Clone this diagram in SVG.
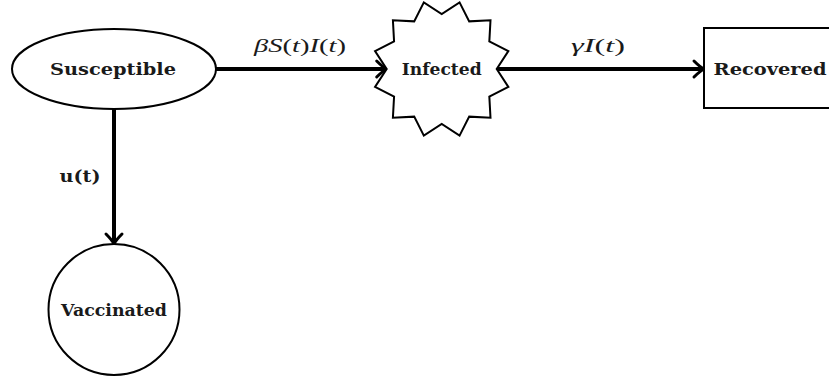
<svg xmlns="http://www.w3.org/2000/svg" width="829" height="381" viewBox="0 0 829 381">
<style>
.shape{fill:#fff;stroke:#000;stroke-width:2}
.node{font-family:"DejaVu Serif","Liberation Serif",serif;font-weight:bold;font-size:17px;fill:#1a1a1a;text-anchor:middle}
.edge{stroke:#000;stroke-width:4;fill:none}
.math{font-family:"Liberation Serif","DejaVu Serif",serif;font-size:19px;fill:#1a1a1a;text-anchor:middle}
.it{font-style:italic}
.lbl{font-family:"DejaVu Serif","Liberation Serif",serif;font-weight:bold;font-size:17px;fill:#1a1a1a;text-anchor:middle}
</style>
<defs>
<marker id="arr" markerUnits="userSpaceOnUse" viewBox="-12 -10 14 20" markerWidth="14" markerHeight="20" refX="-2" refY="0" orient="auto" overflow="visible">
<path d="M-10,-8 Q-4,-2 0,0 Q-4,2 -10,8" fill="none" stroke="#000" stroke-width="3" stroke-linecap="round" stroke-linejoin="round"/>
</marker>
</defs>
<rect width="829" height="381" fill="#fff"/>
<g id="connectors">
<line class="edge" x1="216" y1="69" x2="384.7" y2="69" marker-end="url(#arr)"/>
<line class="edge" x1="496.7" y1="69" x2="702" y2="69" marker-end="url(#arr)"/>
<line class="edge" x1="114" y1="109" x2="114" y2="242" marker-end="url(#arr)"/>
<text class="math" x="300" y="52" textLength="92" lengthAdjust="spacingAndGlyphs"><tspan class="it">βS</tspan>(<tspan class="it">t</tspan>)<tspan class="it">I</tspan>(<tspan class="it">t</tspan>)</text>
<text class="math" x="598" y="52" textLength="54" lengthAdjust="spacingAndGlyphs"><tspan class="it">γI</tspan>(<tspan class="it">t</tspan>)</text>
<text class="lbl" x="80" y="182" textLength="41" lengthAdjust="spacingAndGlyphs">u(t)</text>
</g>
<g id="susceptible">
<ellipse class="shape" cx="114" cy="69" rx="102" ry="40"/>
<text class="node" x="113" y="75" textLength="126" lengthAdjust="spacingAndGlyphs">Susceptible</text>
</g>
<g id="infected">
<polygon class="shape" points="496.7,69 508.35,86.86 489.33,96.5 490.49,117.79 469.2,116.63 459.56,135.65 441.7,124 423.84,135.65 414.2,116.63 392.91,117.79 394.07,96.5 375.05,86.86 386.7,69 375.05,51.14 394.07,41.5 392.91,20.21 414.2,21.37 423.84,2.35 441.7,14 459.56,2.35 469.2,21.37 490.49,20.21 489.33,41.5 508.35,51.14"/>
<text class="node" x="441.7" y="75" textLength="80" lengthAdjust="spacingAndGlyphs">Infected</text>
</g>
<g id="recovered">
<rect class="shape" x="704" y="28" width="134" height="80"/>
<text class="node" x="770" y="75" textLength="113" lengthAdjust="spacingAndGlyphs">Recovered</text>
</g>
<g id="vaccinated">
<circle class="shape" cx="114" cy="309.5" r="65.5"/>
<text class="node" x="114" y="316" textLength="106" lengthAdjust="spacingAndGlyphs">Vaccinated</text>
</g>
</svg>
